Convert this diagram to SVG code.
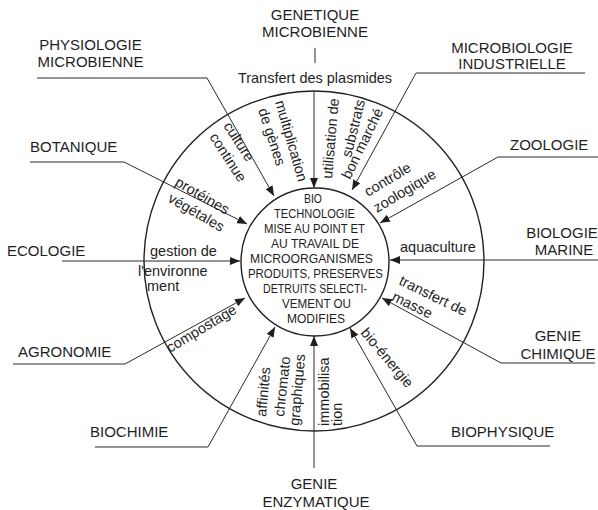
<svg xmlns="http://www.w3.org/2000/svg" width="598" height="510" viewBox="0 0 598 510">
  <style>
    .lbl { font-family: "Liberation Sans", Arial, sans-serif; font-size: 15px; fill: #1e1e1e; }
    .ring { font-family: "Liberation Sans", Arial, sans-serif; font-size: 14.5px; fill: #1e1e1e; }
    .core { font-family: "Liberation Sans", Arial, sans-serif; font-size: 13px; fill: #1e1e1e; text-anchor: middle; }
    .mid { text-anchor: middle; }
    .spoke { fill: none; stroke: #2a2a2a; stroke-width: 1; }
    .circ { fill: none; stroke: #222; stroke-width: 1.4; }
  </style>
  <defs>
    <marker id="arrow" markerUnits="userSpaceOnUse" markerWidth="10" markerHeight="8" refX="10" refY="4" orient="auto">
      <path d="M0,0 L10,4 L0,8 z" fill="#1e1e1e"/>
    </marker>
  </defs>
  <rect width="598" height="510" fill="#ffffff"/>

  <!-- rings -->
  <g id="outer-ring">
    <circle class="circ" cx="314" cy="261" r="170"/>
  </g>

  <!-- spokes from each discipline to the core -->
  <g id="connectors">
    <path class="spoke" d="M315,48 V63"/>
    <path class="spoke" d="M314,91 V188" marker-end="url(#arrow)"/>
    <path class="spoke" d="M37,78 H207 L274,196" marker-end="url(#arrow)"/>
    <path class="spoke" d="M30,162 H124 L247,224" marker-end="url(#arrow)"/>
    <path class="spoke" d="M62,261 H240" marker-end="url(#arrow)"/>
    <path class="spoke" d="M13,364 H125 L245,298" marker-end="url(#arrow)"/>
    <path class="spoke" d="M95,447 H208 L275,327" marker-end="url(#arrow)"/>
    <path class="spoke" d="M314,468 V336" marker-end="url(#arrow)"/>
    <path class="spoke" d="M550,446 H417 L350,328" marker-end="url(#arrow)"/>
    <path class="spoke" d="M595,363 H501 L382,298" marker-end="url(#arrow)"/>
    <path class="spoke" d="M598,260 H390" marker-end="url(#arrow)"/>
    <path class="spoke" d="M598,157 H498 L380,223" marker-end="url(#arrow)"/>
    <path class="spoke" d="M585,73 H416 L352,190" marker-end="url(#arrow)"/>
  </g>

  <!-- core -->
  <g id="core">
    <circle class="circ" cx="315" cy="262" r="74" fill="#fff"/>
    <text class="core" x="313" y="202.5" textLength="18" lengthAdjust="spacingAndGlyphs">BIO</text>
    <text class="core" x="314.5" y="217.5" textLength="81" lengthAdjust="spacingAndGlyphs">TECHNOLOGIE</text>
    <text class="core" x="314.5" y="232.5" textLength="101" lengthAdjust="spacingAndGlyphs">MISE AU POINT ET</text>
    <text class="core" x="315" y="247.5" textLength="88" lengthAdjust="spacingAndGlyphs">AU TRAVAIL DE</text>
    <text class="core" x="311.5" y="262.5" textLength="123" lengthAdjust="spacingAndGlyphs">MICROORGANISMES</text>
    <text class="core" x="315.5" y="277.5" textLength="135" lengthAdjust="spacingAndGlyphs">PRODUITS, PRESERVES</text>
    <text class="core" x="315" y="292.5" textLength="104" lengthAdjust="spacingAndGlyphs">DETRUITS SELECTI-</text>
    <text class="core" x="316.5" y="307.5" textLength="69" lengthAdjust="spacingAndGlyphs">VEMENT OU</text>
    <text class="core" x="316" y="322.5" textLength="58" lengthAdjust="spacingAndGlyphs">MODIFIES</text>
  </g>

  <!-- disciplines -->
  <g id="genetique">
    <text class="lbl mid" x="315" y="20">GENETIQUE</text>
    <text class="lbl mid" x="315" y="37">MICROBIENNE</text>
    <text class="ring mid" x="315" y="83">Transfert des plasmides</text>
  </g>
  <g id="physiologie">
    <text class="lbl mid" x="90.5" y="50">PHYSIOLOGIE</text>
    <text class="lbl mid" x="90.5" y="67">MICROBIENNE</text>
    <text class="ring" transform="translate(275,102) rotate(74)">multiplication</text>
    <text class="ring" transform="translate(258,110) rotate(72)">de gènes</text>
    <text class="ring" transform="translate(223,126) rotate(57)">culture</text>
    <text class="ring" transform="translate(209,137) rotate(57)">continue</text>
  </g>
  <g id="botanique">
    <text class="lbl" x="30" y="152">BOTANIQUE</text>
    <text class="ring" transform="translate(174,185) rotate(30)">protéines</text>
    <text class="ring" transform="translate(167,201) rotate(30)">végétales</text>
  </g>
  <g id="ecologie">
    <text class="lbl" x="7" y="256">ECOLOGIE</text>
    <text class="ring" x="150" y="256">gestion de</text>
    <text class="ring" x="138" y="276">l'environne</text>
    <text class="ring" x="147" y="291">ment</text>
  </g>
  <g id="agronomie">
    <text class="lbl" x="18" y="357">AGRONOMIE</text>
    <text class="ring" transform="translate(170,353) rotate(-31)">compostage</text>
  </g>
  <g id="biochimie">
    <text class="lbl" x="90" y="437">BIOCHIMIE</text>
    <text class="ring" transform="translate(266,417) rotate(-85)">affinités</text>
    <text class="ring" transform="translate(284,417) rotate(-84)">chromato</text>
    <text class="ring" transform="translate(299,426) rotate(-85)">graphiques</text>
  </g>
  <g id="genie-enzymatique">
    <text class="lbl mid" x="314" y="489">GENIE</text>
    <text class="lbl mid" x="316" y="507">ENZYMATIQUE</text>
    <text class="ring" transform="translate(329,426) rotate(-90)">immobilisa</text>
    <text class="ring" transform="translate(342,426) rotate(-90)">tion</text>
  </g>
  <g id="biophysique">
    <text class="lbl" x="451" y="437">BIOPHYSIQUE</text>
    <text class="ring" transform="translate(360,333) rotate(50)">bio-énergie</text>
  </g>
  <g id="genie-chimique">
    <text class="lbl mid" x="558" y="341">GENIE</text>
    <text class="lbl mid" x="558" y="359">CHIMIQUE</text>
    <text class="ring" transform="translate(398,284) rotate(26)">transfert de</text>
    <text class="ring" transform="translate(391,300) rotate(26)">masse</text>
  </g>
  <g id="biologie-marine">
    <text class="lbl mid" x="562" y="238">BIOLOGIE</text>
    <text class="lbl mid" x="564" y="255">MARINE</text>
    <text class="ring" x="400" y="252">aquaculture</text>
  </g>
  <g id="zoologie">
    <text class="lbl" x="510" y="150">ZOOLOGIE</text>
    <text class="ring" transform="translate(368,197) rotate(-31)">contrôle</text>
    <text class="ring" transform="translate(377,213) rotate(-31)">zoologique</text>
  </g>
  <g id="microbiologie-industrielle">
    <text class="lbl mid" x="512" y="53">MICROBIOLOGIE</text>
    <text class="lbl mid" x="512" y="69">INDUSTRIELLE</text>
    <text class="ring" transform="translate(332,179) rotate(-85)">utilisation de</text>
    <text class="ring" transform="translate(351,158) rotate(-76)">substrats</text>
    <text class="ring" transform="translate(350,180) rotate(-64)">bon marché</text>
  </g>
</svg>
